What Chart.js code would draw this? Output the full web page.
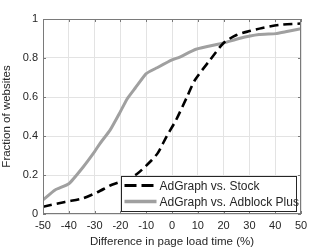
<!DOCTYPE html>
<html>
<head>
<meta charset="utf-8">
<script src="https://cdn.jsdelivr.net/npm/chart.js@4"></script>
<style>
  html, body { margin: 0; padding: 0; background: #fff; }
  #wrap { width: 332px; height: 249px; }
</style>
</head>
<body>
<div id="wrap"><canvas id="cdf" width="332" height="249"></canvas></div>
<script>
// Values
const stockX = [-50, -41.5, -34.5, -28.7, -23.3, -18, -13.6, -7.8, -5.4, -2, 1.5, 5.8, 8.9, 14.7, 20, 25, 30, 35, 41.5, 50];
const stockY = [0.037, 0.062, 0.08, 0.113, 0.15, 0.175, 0.205, 0.277, 0.315, 0.4, 0.48, 0.6, 0.687, 0.789, 0.877, 0.918, 0.938, 0.954, 0.97, 0.977];

const abpX = [-50, -45.3, -40, -34.5, -30, -28, -24, -20.2, -17.4, -14.3, -10, -5.8, 0, 3, 9.3, 20, 26, 33.7, 40.3, 44, 50];
const abpY = [0.072, 0.123, 0.155, 0.24, 0.32, 0.36, 0.43, 0.52, 0.59, 0.645, 0.72, 0.75, 0.79, 0.805, 0.845, 0.877, 0.9, 0.92, 0.925, 0.935, 0.95];

const xTicks = [-50, -40, -30, -20, -10, 0, 10, 20, 30, 40, 50];
const yTicks = [0, 0.2, 0.4, 0.6, 0.8, 1];
const yLabels = ["0", "0.2", "0.4", "0.6", "0.8", "1"];
const seriesNames = ["AdGraph vs. Stock", "AdGraph vs. Adblock Plus"];

const toPoints = (xs, ys) => xs.map((x, i) => ({ x: x, y: ys[i] }));
const FONT = "'Liberation Sans', Arial, sans-serif";
const TEXT = "#262626";

// box, inward ticks and the in-plot legend, MATLAB style
const frameAndLegend = {
  id: "frameAndLegend",
  afterDraw(chart) {
    const { ctx, chartArea: a, scales } = chart;
    ctx.save();
    ctx.strokeStyle = "#7a7a7a";
    ctx.lineWidth = 1;
    ctx.strokeRect(a.left + 0.5, a.top + 0.5, a.right - a.left - 1, a.bottom - a.top - 1);
    ctx.beginPath();
    xTicks.forEach(t => {
      const px = Math.round(scales.x.getPixelForValue(t)) + 0.5;
      ctx.moveTo(px, a.bottom); ctx.lineTo(px, a.bottom - 3);
      ctx.moveTo(px, a.top); ctx.lineTo(px, a.top + 3);
    });
    yTicks.forEach(t => {
      const py = Math.round(scales.y.getPixelForValue(t)) + 0.5;
      ctx.moveTo(a.left, py); ctx.lineTo(a.left + 3, py);
      ctx.moveTo(a.right, py); ctx.lineTo(a.right - 3, py);
    });
    ctx.stroke();

    // legend box
    const bx = 121.5, by = 176.5, bw = 175, bh = 35;
    ctx.fillStyle = "#fff";
    ctx.fillRect(bx, by, bw, bh);
    ctx.strokeStyle = "#262626";
    ctx.strokeRect(bx, by, bw, bh);
    ctx.font = "12px " + FONT;
    ctx.textBaseline = "middle";
    chart.data.datasets.forEach((ds, i) => {
      const ly = by + 9 + i * 16;
      ctx.beginPath();
      ctx.strokeStyle = ds.borderColor;
      ctx.lineWidth = ds.borderWidth + 0.4;
      ctx.setLineDash(ds.borderDash ? [12, 5] : []);
      ctx.moveTo(bx + 3, ly); ctx.lineTo(bx + 35, ly);
      ctx.stroke();
      ctx.setLineDash([]);
      ctx.fillStyle = TEXT;
      ctx.fillText(ds.label, bx + 38, ly + 1);
    });
    ctx.restore();
  }
};

new Chart(document.getElementById("cdf"), {
  type: "line",
  data: {
    datasets: [
      {
        label: seriesNames[0],
        data: toPoints(stockX, stockY),
        borderColor: "#000",
        borderWidth: 2.6,
        borderDash: [9, 5],
        pointRadius: 0,
        tension: 0.25,
        fill: false
      },
      {
        label: seriesNames[1],
        data: toPoints(abpX, abpY),
        borderColor: "#a0a0a0",
        borderWidth: 3,
        pointRadius: 0,
        tension: 0.15,
        fill: false
      }
    ]
  },
  options: {
    responsive: false,
    animation: false,
    layout: { padding: { left: 0, right: 31, top: 19, bottom: 0 } },
    plugins: { legend: { display: false }, tooltip: { enabled: false } },
    scales: {
      x: {
        type: "linear",
        min: -50, max: 50,
        afterBuildTicks: s => { s.ticks = xTicks.map(v => ({ value: v })); },
        afterFit: s => { s.height = 35; },
        grid: { color: "#e3e3e3", drawTicks: false },
        border: { display: false },
        ticks: { color: TEXT, font: { family: FONT, size: 11 }, padding: 5, maxRotation: 0 },
        title: { display: true, text: "Difference in page load time (%)", color: TEXT, font: { family: FONT, size: 11.5 }, padding: 0 }
      },
      y: {
        min: 0, max: 1,
        afterBuildTicks: s => { s.ticks = yTicks.map(v => ({ value: v })); },
        afterFit: s => { s.width = 43; },
        grid: { color: "#e3e3e3", drawTicks: false },
        border: { display: false },
        ticks: {
          color: TEXT, font: { family: FONT, size: 11 }, padding: 5,
          callback: (v, i) => yLabels[i]
        },
        title: { display: true, text: "Fraction of websites", color: TEXT, font: { family: FONT, size: 11.5 }, padding: 0 }
      }
    }
  },
  plugins: [frameAndLegend]
});
</script>
</body>
</html>
